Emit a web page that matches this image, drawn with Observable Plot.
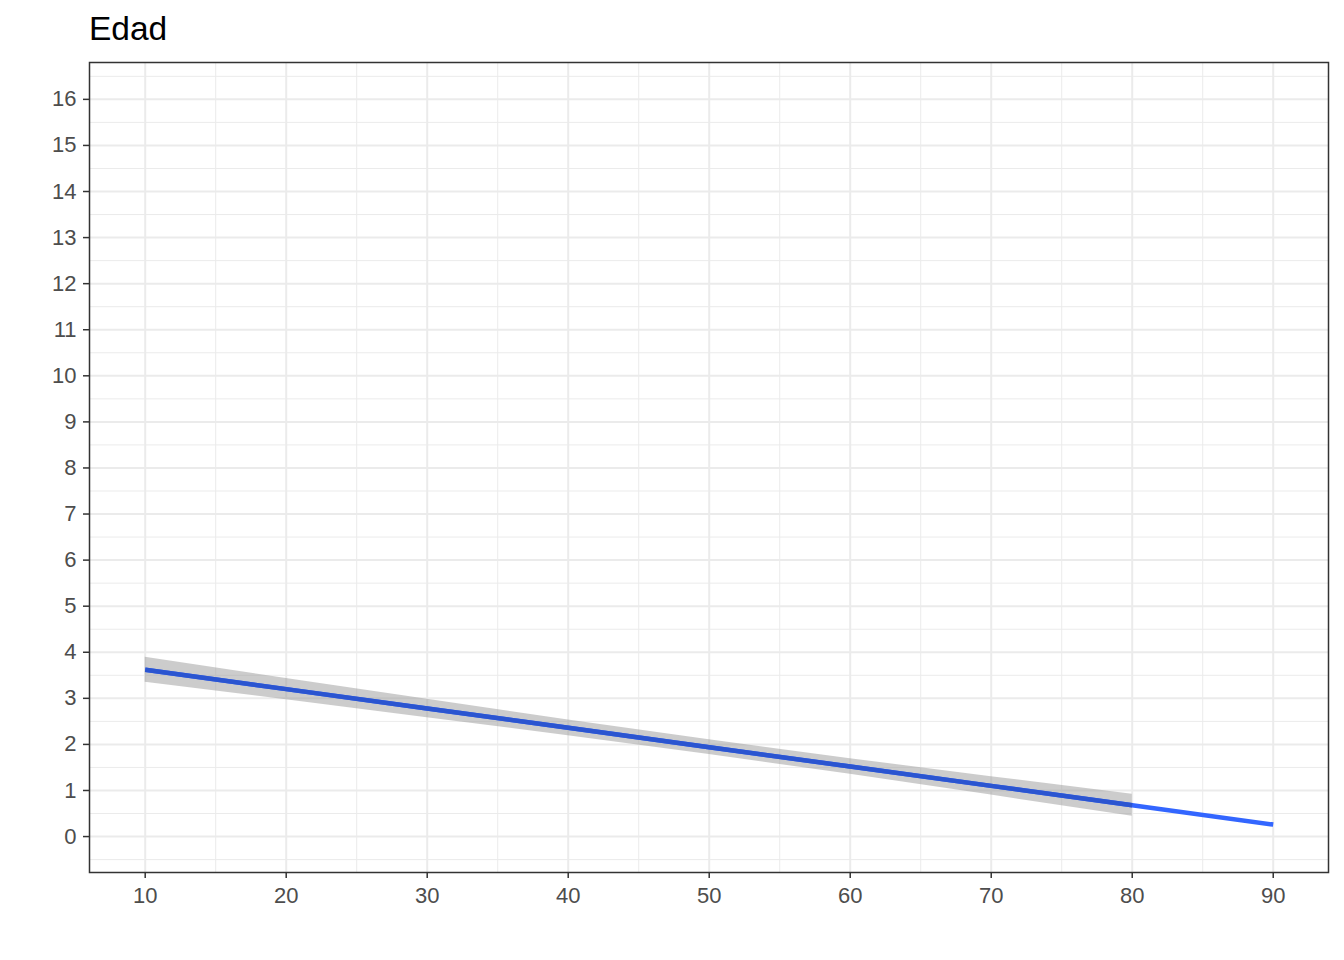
<!DOCTYPE html>
<html>
<head>
<meta charset="utf-8">
<script src="https://cdn.jsdelivr.net/npm/d3@7"></script>
<script src="https://cdn.jsdelivr.net/npm/@observablehq/plot@0.6"></script>
<style>
  html, body { margin: 0; padding: 0; background: #fff; }
  #wrap { width: 1344px; height: 960px; font-family: "Liberation Sans", Arial, sans-serif; }
  #title { height: 50px; padding-left: 89px; font-size: 33.5px; line-height: 58px; color: #000; box-sizing: border-box; }
</style>
</head>
<body>
<div id="wrap">
  <div id="title">Edad</div>
  <div id="chart"></div>
</div>
<script>
// Fitted line (age -> value)
const lineX = [10, 20, 30, 40, 50, 60, 70, 80, 90];
const lineY = [3.62, 3.20, 2.78, 2.36, 1.94, 1.52, 1.10, 0.68, 0.26];
// Confidence band (observed range 10..80)
const bandX = [10, 20, 30, 40, 50, 60, 70, 80];
const bandFit = [3.62, 3.20, 2.78, 2.36, 1.94, 1.52, 1.10, 0.68];
const bandLow = [3.35, 2.97, 2.58, 2.19, 1.78, 1.35, 0.90, 0.44];
const bandHigh = [3.89, 3.43, 2.98, 2.53, 2.10, 1.69, 1.30, 0.92];

const xTicks = [10, 20, 30, 40, 50, 60, 70, 80, 90];
const xMinor = [15, 25, 35, 45, 55, 65, 75, 85];
const yTicks = [0, 1, 2, 3, 4, 5, 6, 7, 8, 9, 10, 11, 12, 13, 14, 15, 16];
const yMinor = [-0.5, 0.5, 1.5, 2.5, 3.5, 4.5, 5.5, 6.5, 7.5, 8.5, 9.5, 10.5, 11.5, 12.5, 13.5, 14.5, 15.5, 16.5];

const lineData = lineX.map((x, i) => ({x, y: lineY[i]}));
const bandData = bandX.map((x, i) => ({x, fit: bandFit[i], lo: bandLow[i], hi: bandHigh[i]}));

const plot = Plot.plot({
  width: 1344,
  height: 910,
  marginTop: 12,
  marginBottom: 88,
  marginLeft: 89,
  marginRight: 16,
  style: {fontFamily: "Liberation Sans, Arial, sans-serif", background: "#fff"},
  x: {domain: [6.05, 93.92]},
  y: {domain: [-0.78, 16.8]},
  marks: [
    Plot.gridX(xMinor, {stroke: "#EBEBEB", strokeOpacity: 1, strokeWidth: 1}),
    Plot.gridY(yMinor, {stroke: "#EBEBEB", strokeOpacity: 1, strokeWidth: 1}),
    Plot.gridX(xTicks, {stroke: "#EBEBEB", strokeOpacity: 1, strokeWidth: 2}),
    Plot.gridY(yTicks, {stroke: "#EBEBEB", strokeOpacity: 1, strokeWidth: 2}),
    Plot.areaY(bandData, {x: "x", y1: "lo", y2: "hi", fill: "#999999", fillOpacity: 0.5}),
    Plot.line(lineData, {x: "x", y: "y", stroke: "#3366FF", strokeWidth: 4.5, strokeLinecap: "butt"}),
    Plot.line(bandData, {x: "x", y: "fit", stroke: "#2B55D0", strokeWidth: 4.5, strokeLinecap: "butt"}),
    Plot.axisX(xTicks, {tickSize: 6, tickPadding: 9, stroke: "#333333", strokeWidth: 1.5, fill: "#4D4D4D", fontSize: 22, label: null}),
    Plot.axisY(yTicks, {tickSize: 6, tickPadding: 7, stroke: "#333333", strokeWidth: 1.5, fill: "#4D4D4D", fontSize: 22, label: null}),
    Plot.frame({stroke: "#333333", strokeWidth: 1.5})
  ]
});
document.getElementById("chart").appendChild(plot);
</script>
</body>
</html>
